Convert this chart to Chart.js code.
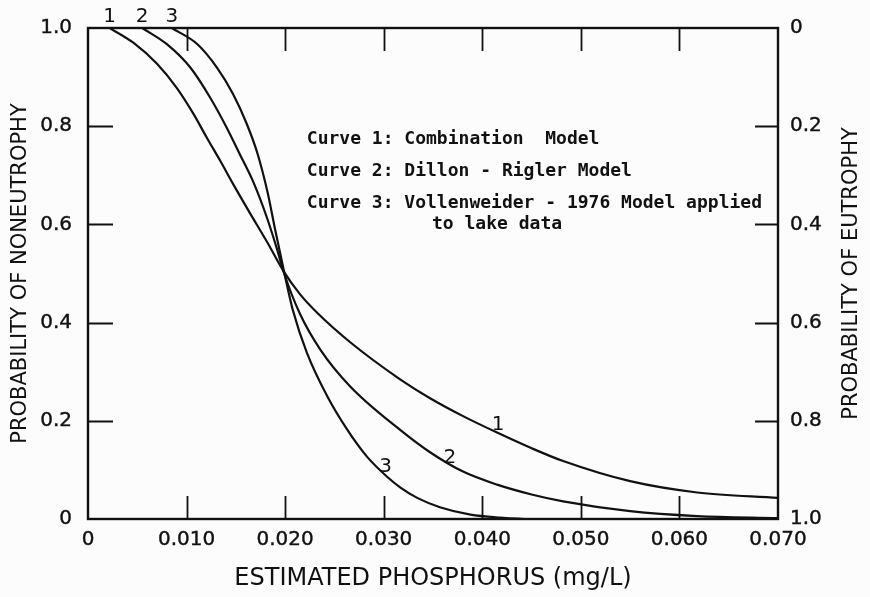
<!DOCTYPE html>
<html>
<head>
<meta charset="utf-8">
<script src="https://cdn.jsdelivr.net/npm/chart.js@4.4.1/dist/chart.umd.min.js"></script>
<style>
  html, body { margin: 0; padding: 0; background: #fcfcfc; }
  canvas { display: block; }
</style>
</head>
<body>
<canvas id="probChart" width="870" height="597"></canvas>
<script>
// Curve 1: combination model
const combinationP    = [0.0022, 0.0046, 0.0070, 0.0090, 0.0107, 0.0121, 0.0134, 0.0147, 0.0164, 0.0182, 0.0198, 0.0215, 0.0233, 0.0266, 0.0317, 0.0347, 0.0381, 0.0415, 0.0449, 0.0482, 0.055, 0.0618, 0.070];
const combinationProb = [1.0, 0.970, 0.927, 0.878, 0.825, 0.775, 0.730, 0.683, 0.624, 0.563, 0.506, 0.458, 0.419, 0.360, 0.284, 0.246, 0.209, 0.176, 0.145, 0.118, 0.077, 0.054, 0.043];

// Curve 2: Dillon - Rigler model
const dillonP    = [0.0055, 0.0080, 0.0104, 0.0124, 0.0141, 0.0154, 0.0168, 0.0182, 0.0192, 0.0199, 0.0215, 0.0236, 0.0266, 0.0317, 0.0347, 0.0381, 0.0415, 0.045, 0.0482, 0.055, 0.0618, 0.070];
const dillonProb = [1.0, 0.967, 0.919, 0.858, 0.796, 0.743, 0.685, 0.611, 0.548, 0.50, 0.418, 0.344, 0.270, 0.181, 0.136, 0.096, 0.070, 0.050, 0.036, 0.016, 0.006, 0.002];

// Curve 3: Vollenweider - 1976 model applied to lake data
const vollenP    = [0.0085, 0.0111, 0.0131, 0.0147, 0.0161, 0.0172, 0.0182, 0.0190, 0.0199, 0.0208, 0.0222, 0.0243, 0.0263, 0.0283, 0.0304, 0.0317, 0.0334, 0.0357, 0.0388, 0.0418, 0.0449, 0.070];
const vollenProb = [1.0, 0.967, 0.919, 0.866, 0.805, 0.744, 0.667, 0.588, 0.503, 0.424, 0.339, 0.249, 0.182, 0.127, 0.085, 0.064, 0.043, 0.024, 0.009, 0.003, 0.0, 0.0];

// axis ticks
const xTicks = [0, 0.01, 0.02, 0.03, 0.04, 0.05, 0.06, 0.07];
const xTickLabels = ['0', '0.010', '0.020', '0.030', '0.040', '0.050', '0.060', '0.070'];
const yTicks = [0, 0.2, 0.4, 0.6, 0.8, 1.0];
const yTickLabels = ['0', '0.2', '0.4', '0.6', '0.8', '1.0'];
const eutrophyTicks = [0, 0.2, 0.4, 0.6, 0.8, 1.0];
const eutrophyTickLabels = ['0', '0.2', '0.4', '0.6', '0.8', '1.0'];

const curveNumbers = ['1', '2', '3'];
const noteLines = [
  'Curve 1: Combination  Model',
  'Curve 2: Dillon - Rigler Model',
  'Curve 3: Vollenweider - 1976 Model applied',
  'to lake data'
];

const INK = '#111';
const pairs = (xs, ys) => xs.map((v, i) => ({ x: v, y: ys[i] }));

function fixedTicks(values) {
  return scale => { scale.ticks = values.map(v => ({ value: v })); };
}

// frame box, inward tick marks, curve numbers, notes and right-hand title
const frameAndNotes = {
  id: 'frameAndNotes',
  afterDraw(chart) {
    const { ctx, chartArea: a, scales: { x, y } } = chart;
    ctx.save();
    ctx.strokeStyle = INK;
    ctx.lineWidth = 2.4;
    ctx.strokeRect(a.left, a.top, a.right - a.left, a.bottom - a.top);

    ctx.lineWidth = 1.8;
    ctx.beginPath();
    xTicks.slice(1, -1).forEach(v => {
      const px = Math.round(x.getPixelForValue(v)) + 0.5;
      ctx.moveTo(px, a.bottom); ctx.lineTo(px, a.bottom - 23);
      ctx.moveTo(px, a.top); ctx.lineTo(px, a.top + 23);
    });
    yTicks.slice(1, -1).forEach(v => {
      const py = Math.round(y.getPixelForValue(v)) + 0.5;
      ctx.moveTo(a.left, py); ctx.lineTo(a.left + 25, py);
      ctx.moveTo(a.right, py); ctx.lineTo(a.right - 23, py);
    });
    ctx.stroke();

    // curve numbers at the top edge and along the tails
    ctx.fillStyle = INK;
    ctx.font = '20px "DejaVu Sans"';
    ctx.textAlign = 'center';
    ctx.textBaseline = 'middle';
    const topAt = [combinationP[0], dillonP[0], vollenP[0]];
    curveNumbers.forEach((n, i) => {
      ctx.fillText(n, x.getPixelForValue(topAt[i]), a.top - 11);
    });
    const tailAt = [[0.0416, 0.191], [0.0367, 0.124], [0.0302, 0.106]];
    curveNumbers.forEach((n, i) => {
      ctx.fillText(n, x.getPixelForValue(tailAt[i][0]), y.getPixelForValue(tailAt[i][1]));
    });

    // model notes
    ctx.font = 'bold 18px "DejaVu Sans Mono"';
    ctx.textAlign = 'left';
    const noteX = x.getPixelForValue(0.0222);
    const noteY = [0.774, 0.708, 0.642, 0.6];
    noteLines.forEach((t, i) => {
      const px = i === 3 ? x.getPixelForValue(0.0349) : noteX;
      ctx.fillText(t, px, y.getPixelForValue(noteY[i]));
    });

    // right axis title, reading bottom to top
    ctx.font = '21px "DejaVu Sans"';
    ctx.textAlign = 'center';
    ctx.translate(852, (a.top + a.bottom) / 2);
    ctx.rotate(-Math.PI / 2);
    ctx.fillText('PROBABILITY OF EUTROPHY', 0, 0);
    ctx.restore();
  }
};

const lineStyle = {
  borderColor: INK,
  borderWidth: 2.2,
  pointRadius: 0,
  fill: false,
  cubicInterpolationMode: 'monotone'
};

const tickStyle = {
  color: INK,
  textStrokeColor: INK,
  textStrokeWidth: 0.4,
  font: { family: 'DejaVu Sans', size: 20 }
};

new Chart(document.getElementById('probChart').getContext('2d'), {
  type: 'line',
  data: {
    datasets: [
      { label: 'Combination Model', data: pairs(combinationP, combinationProb), ...lineStyle },
      { label: 'Dillon - Rigler Model', data: pairs(dillonP, dillonProb), ...lineStyle },
      { label: 'Vollenweider - 1976 Model', data: pairs(vollenP, vollenProb), ...lineStyle }
    ]
  },
  options: {
    responsive: false,
    animation: false,
    devicePixelRatio: 1,
    layout: { padding: { top: 27, left: 0, right: 0, bottom: 0 } },
    plugins: { legend: { display: false }, tooltip: { enabled: false } },
    scales: {
      x: {
        type: 'linear',
        min: 0,
        max: 0.07,
        afterBuildTicks: fixedTicks(xTicks),
        afterFit: s => { s.height = 78; },
        grid: { display: false, drawTicks: false },
        border: { display: false },
        ticks: {
          ...tickStyle,
          padding: 9,
          maxRotation: 0,
          callback: (v, i) => xTickLabels[i]
        },
        title: {
          display: true,
          text: 'ESTIMATED PHOSPHORUS (mg/L)',
          color: INK,
          font: { family: 'DejaVu Sans', size: 24 },
          padding: { top: 0, bottom: 4 }
        }
      },
      y: {
        position: 'left',
        min: 0,
        max: 1,
        afterBuildTicks: fixedTicks(yTicks),
        afterFit: s => { s.width = 88; },
        grid: { display: false, drawTicks: false },
        border: { display: false },
        ticks: {
          ...tickStyle,
          padding: 16,
          callback: (v, i) => yTickLabels[i]
        },
        title: {
          display: true,
          text: 'PROBABILITY OF NONEUTROPHY',
          color: INK,
          font: { family: 'DejaVu Sans', size: 21 },
          padding: { top: 8, bottom: 0 }
        }
      },
      y2: {
        position: 'right',
        reverse: true,
        min: 0,
        max: 1,
        afterBuildTicks: fixedTicks(eutrophyTicks),
        afterFit: s => { s.width = 92; },
        grid: { display: false, drawTicks: false },
        border: { display: false },
        ticks: {
          ...tickStyle,
          padding: 12,
          callback: (v, i) => eutrophyTickLabels[i]
        }
      }
    }
  },
  plugins: [frameAndNotes]
});
</script>
</body>
</html>
